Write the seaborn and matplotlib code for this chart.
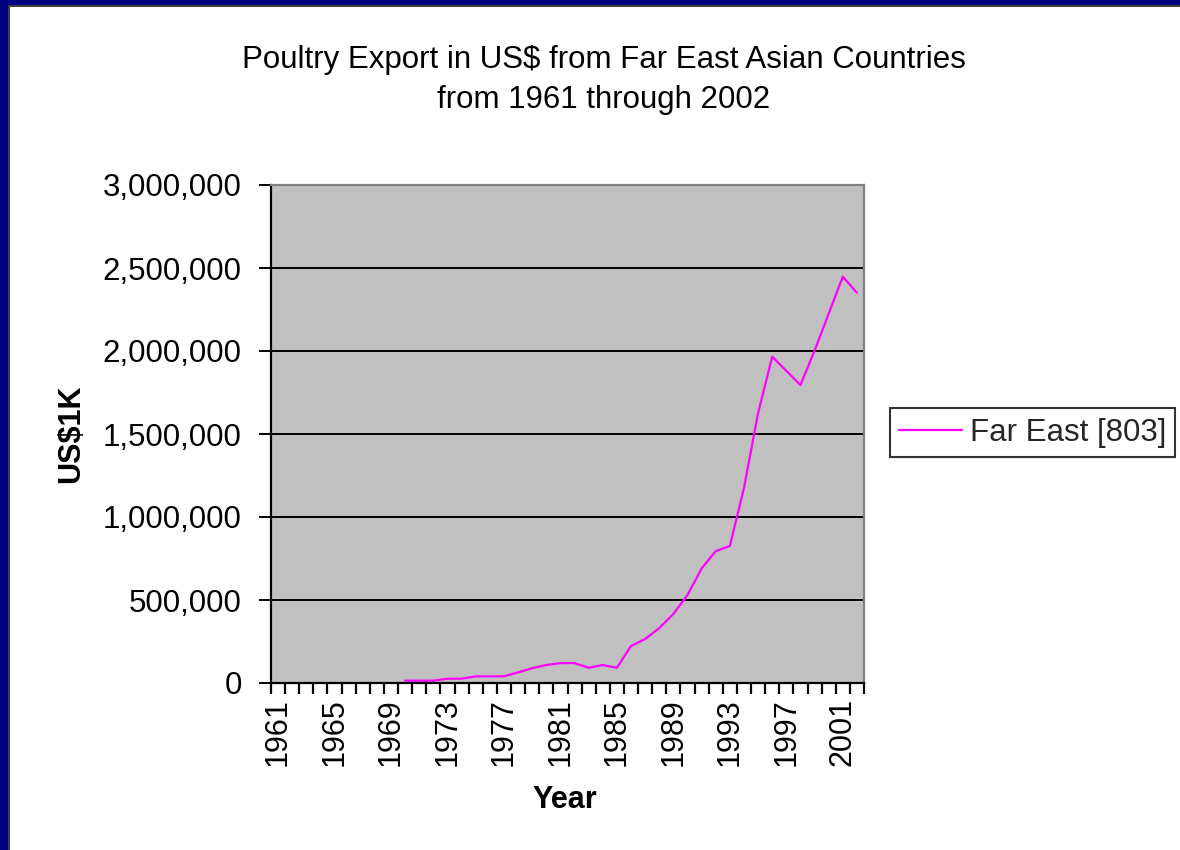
import numpy as np
import pandas as pd
import matplotlib
matplotlib.use("Agg")
import matplotlib.pyplot as plt
import seaborn as sns
from matplotlib.patches import Rectangle
from matplotlib.ticker import FuncFormatter, FixedLocator

# ---- data ----
years = list(range(1961, 2003))
values = [np.nan] * 9 + [
    14000, 14000, 14000,          # 1970-1972
    26000, 26000,                 # 1973-1974
    40000, 40000, 40000,          # 1975-1977
    64000, 89000, 108000,         # 1978-1980
    120000, 120000, 92000,        # 1981-1983
    108000, 92000, 223000,        # 1984-1986
    265000, 331000, 416000,       # 1987-1989
    530000, 690000, 795000,       # 1990-1992
    825000, 1175000, 1627000,     # 1993-1995
    1966000, 1881000, 1795000,    # 1996-1998
    2002000, 2225000, 2448000,    # 1999-2001
    2351000,                      # 2002
]
series_name = "Far East [803]"
label_years = [1961, 1965, 1969, 1973, 1977, 1981, 1985, 1989, 1993, 1997, 2001]
y_ticks = [0, 500000, 1000000, 1500000, 2000000, 2500000, 3000000]
title_lines = ["Poultry Export in US$ from Far East Asian Countries",
               "from 1961 through 2002"]

df = pd.DataFrame({"Year": years, "Value": values})

sns.set_theme(style="white")
plt.rcParams["font.family"] = ["Liberation Sans", "DejaVu Sans"]

fig = plt.figure(figsize=(11.8, 8.5), dpi=100)
fig.patch.set_facecolor("white")
ax = fig.add_axes([271/1180, 1-683/850, 593/1180, 498/850])
ax.set_facecolor("#C0C0C0")

sns.lineplot(data=df, x="Year", y="Value", color="#FF00FF", linewidth=1.6,
             ax=ax, label=series_name)

ax.set_xlim(years[0] - 0.5, years[-1] + 0.5)
ax.set_ylim(0, 3000000)
ax.set_yticks(y_ticks)
ax.yaxis.set_major_formatter(FuncFormatter(lambda v, p: f"{int(v):,}"))
ax.yaxis.grid(True, color="black", linewidth=1.4)
ax.set_axisbelow(True)
ax.xaxis.grid(False)

ax.xaxis.set_major_locator(FixedLocator(label_years))
ax.xaxis.set_minor_locator(FixedLocator([y - 0.5 for y in years] + [years[-1] + 0.5]))
ax.set_xticklabels([str(y) for y in label_years], rotation=90)
ax.tick_params(axis="x", which="major", length=0, pad=11, labelsize=22, colors="black")
ax.tick_params(axis="x", which="minor", length=8, width=1.6, color="black", direction="out", bottom=True)
ax.tick_params(axis="y", which="major", length=9, width=1.4, color="black", direction="out",
               left=True, pad=12, labelsize=22.5, labelcolor="black")

for s in ["left", "bottom"]:
    ax.spines[s].set_color("black")
    ax.spines[s].set_linewidth(1.6)
for s in ["top", "right"]:
    ax.spines[s].set_color("#808080")
    ax.spines[s].set_linewidth(1.6)

ax.set_xlabel("Year", fontsize=22, fontweight="bold", color="black")
ax.set_ylabel("US$1K", fontsize=22, fontweight="bold", color="black")
ax.xaxis.set_label_coords(0.496, -0.205)
ax.yaxis.set_label_coords(-0.311, 0.5)

ax.get_legend().remove()
leg = fig.legend(loc="center left", bbox_to_anchor=(890/1180, 1-432.5/850),
                 bbox_transform=fig.transFigure, borderaxespad=0, frameon=True,
                 fancybox=False, shadow=False, fontsize=22.5, handlelength=2.0,
                 handletextpad=0.25, borderpad=0.3)
leg.get_frame().set_edgecolor("black")
leg.get_frame().set_linewidth(1.5)

fig.text(604/1180, 1-60/850, title_lines[0], ha="center", va="center", fontsize=22.5, color="black")
fig.text(604/1180, 1-100/850, title_lines[1], ha="center", va="center", fontsize=22.5, color="black")

# navy frame bands (top and left)
fig.patches.append(Rectangle((0, 1-5/850), 1, 5/850, transform=fig.transFigure,
                             facecolor="#000080", edgecolor="none", zorder=10))
fig.patches.append(Rectangle((0, 0), 8/1180, 1, transform=fig.transFigure,
                             facecolor="#000080", edgecolor="none", zorder=10))
fig.patches.append(Rectangle((8/1180, 1-7/850), 1, 2/850, transform=fig.transFigure,
                             facecolor="#404040", edgecolor="none", zorder=10))
fig.patches.append(Rectangle((8/1180, 0), 2/1180, 1-5/850, transform=fig.transFigure,
                             facecolor="#404040", edgecolor="none", zorder=10))

fig.savefig("out.png", dpi=100)
